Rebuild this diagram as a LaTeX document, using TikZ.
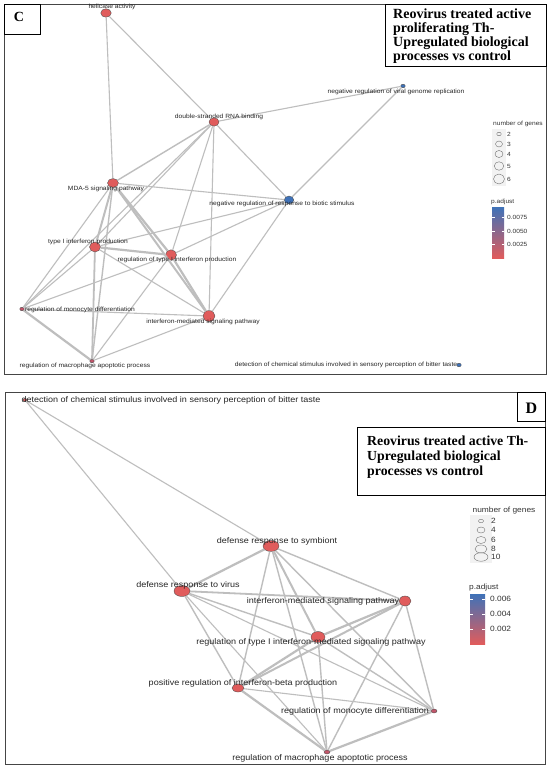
\documentclass[tikz,border=0pt]{standalone}
\usepackage{fontspec}
\setmainfont{Liberation Serif}
\setsansfont{Liberation Sans}
\newfontfamily\termfont[FakeStretch=1.1]{Liberation Sans}
\usetikzlibrary{shapes.geometric}

\definecolor{nodered}{HTML}{E05C5C}
\definecolor{nodeblue}{HTML}{3F72B8}
\definecolor{nodedark}{HTML}{C0566A}
\definecolor{edgegray}{HTML}{BEBEBE}
\definecolor{framegray}{HTML}{454545}

\begin{document}
\begin{tikzpicture}[x=1pt,y=-1pt]
\tikzset{term/.style = {shape=ellipse,draw=black!70,line width=0.35pt,inner sep=0pt}}
\tikzset{termlab/.style = {font=\termfont\fontsize{6.1}{7}\selectfont,inner sep=0pt,text=black!85}}
\tikzset{termlabD/.style = {font=\termfont\fontsize{8.2}{9}\selectfont,inner sep=0pt,text=black!85}}
\tikzset{link/.style = {draw=edgegray,line width=1.1pt}}
\tikzset{legtext/.style = {font=\termfont\fontsize{6}{7}\selectfont,inner sep=0pt,text=black!80}}
\tikzset{legtextD/.style = {font=\termfont\fontsize{7.6}{8}\selectfont,inner sep=0pt,text=black!80}}
\tikzset{titletext/.style = {font=\bfseries\fontsize{14}{14}\selectfont,inner sep=0pt}}
\tikzset{legdot/.style = {shape=ellipse,draw=black!60,line width=0.35pt,inner sep=0pt}}

\useasboundingbox (0,0) rectangle (550,768);
\fill[white] (0,0) rectangle (550,768);

% ---- panel C ----
\draw[framegray,line width=0.8pt] (4,4) rectangle (546,374);
\draw[black,line width=0.7pt] (4,4) rectangle (40,34);
\node[titletext,anchor=base] (tagC) at (19,22) {C};
\draw[black,line width=0.7pt] (385,4) rectangle (546,66);
\foreach \txt [count=\i] in {Reovirus treated active, proliferating Th-, Upregulated biological, processes vs control}
\node[titletext,anchor=base west] (ttlC-\i) at (393,5+14*\i) {\txt};

\foreach \pos/\name/\w/\h/\col in {{(106,13)/hel/10.5/8.5/nodered}, {(214,122)/dsr/10/8.5/nodered},
  {(113,183)/mda/11/9/nodered}, {(403,86)/nvr/4.5/3.5/nodeblue}, {(289,200)/nrb/9.5/8/nodeblue},
  {(95,247)/tip/11/10/nodered}, {(171,255)/rtip/11/10.5/nodered}, {(22,309)/mon/4.5/3.5/nodedark},
  {(209,316)/ims/12/11/nodered}, {(92,361)/mac/4.5/3.5/nodedark}, {(459,365)/bit/4.5/3.5/nodeblue}}
\node[term,fill=\col,minimum width=\w pt,minimum height=\h pt] (\name) at \pos {};

\foreach \from/\to/\lw in {hel/mda/1.1, hel/dsr/1.1, dsr/nvr/1.1, nvr/nrb/1.1, dsr/nrb/1.1,
  dsr/mda/1.4, dsr/tip/1.1, dsr/rtip/1.1, dsr/ims/1.1, dsr/mon/1.1, mda/nrb/1.1,
  mda/tip/2, mda/rtip/2.2, mda/ims/2, mda/mon/1.1, mda/mac/1.4, tip/rtip/2.2, tip/ims/1.1,
  tip/mac/1.8, tip/mon/1.1, tip/nrb/1.1, rtip/ims/2.2, rtip/mon/1.1, rtip/mac/1.1, rtip/nrb/1.1,
  ims/mon/1.1, ims/mac/1.1, ims/nrb/1.1, mon/mac/2.2}
\draw[link,line width=\lw pt] (\from) -- (\to);

\foreach \pos/\name/\txt in {{(112,7)/hel/helicase activity}, {(219,117)/dsr/double-stranded RNA binding},
  {(106,189)/mda/MDA-5 signaling pathway}, {(396,92)/nvr/negative regulation of viral genome replication},
  {(282,204)/nrb/negative regulation of response to biotic stimulus},
  {(88,242)/tip/type I interferon production}, {(177,260)/rtip/regulation of type I interferon production},
  {(80,310)/mon/regulation of monocyte differentiation}, {(203,322)/ims/interferon-mediated signaling pathway},
  {(85,366)/mac/regulation of macrophage apoptotic process},
  {(346,365)/bit/detection of chemical stimulus involved in sensory perception of bitter taste}}
\node[termlab] (\name-l) at \pos {\txt};

% legend C
\node[legtext] (genesC) at (518,124) {number of genes};
\fill[gray!10] (492,129) rectangle (506,186);
\foreach \y/\w/\h/\n in {134/4.5/3.5/2, 144/7/6/3, 154/8/7/4, 166/9.5/8.5/5, 179/11/10/6}{
\node[legdot,minimum width=\w pt,minimum height=\h pt] (dotC-\n) at (499,\y) {};
\node[legtext,anchor=west] (numC-\n) at (507,\y) {\n};
}
\node[legtext,anchor=west] (padjC) at (491,202) {p.adjust};
\shade[top color=nodeblue,bottom color=nodered] (492,207) rectangle (504,258);
\foreach \y/\v in {217/0.0075, 231/0.0050, 244/0.0025}{
\draw[white,line width=0.4pt] (492,\y) -- (494.5,\y) (501.5,\y) -- (504,\y);
\node[legtext,anchor=west] (tickC-\v) at (507,\y) {\v};
}

% ---- panel D ----
\draw[framegray,line width=0.8pt] (5,392) rectangle (545,764);
\draw[black,line width=0.7pt] (517,392) rectangle (545,421);
\node[titletext,font=\bfseries\fontsize{16}{16}\selectfont,anchor=base] (tagD) at (531.5,413) {D};
\draw[black,line width=0.7pt] (357,427) rectangle (545,495);
\foreach \txt [count=\i] in {Reovirus treated active Th-, Upregulated biological, processes vs control}
\node[titletext,font=\bfseries\fontsize{13.8}{14}\selectfont,anchor=base west] (ttlD-\i) at (367,430+15*\i) {\txt};

\foreach \pos/\name/\w/\h/\col in {{(25,400)/bitD/4/3/nodered}, {(271,546)/sym/16/11/nodered},
  {(182,591)/vir/16/11/nodered}, {(405,601)/imsD/12/10/nodered}, {(318,637)/rtipD/14/11/nodered},
  {(238,688)/pib/12/8/nodered}, {(434,711)/monD/6/4/nodedark}, {(327,752)/macD/6/4/nodedark}}
\node[term,fill=\col,minimum width=\w pt,minimum height=\h pt] (\name) at \pos {};

\foreach \from/\to/\lw in {bitD/sym/1.1, bitD/vir/1.1, sym/vir/2.2, sym/imsD/1.4, sym/rtipD/2,
  sym/pib/1.4, sym/monD/1.4, sym/macD/1.4, vir/imsD/1.8, vir/rtipD/1.4, vir/pib/1.4, vir/monD/1.1,
  vir/macD/1.1, imsD/rtipD/2.2, imsD/pib/2, imsD/monD/1.4, imsD/macD/1.4, rtipD/pib/2.2,
  rtipD/monD/1.4, rtipD/macD/1.4, pib/monD/1.1, pib/macD/2.2, monD/macD/2.2}
\draw[link,line width=\lw pt] (\from) -- (\to);

\foreach \pos/\name/\txt in {{(171,400)/bitD/detection of chemical stimulus involved in sensory perception of bitter taste},
  {(277,541)/sym/defense response to symbiont}, {(188,585)/vir/defense response to virus},
  {(323,601)/imsD/interferon-mediated signaling pathway},
  {(311,642)/rtipD/regulation of type I interferon-mediated signaling pathway},
  {(243,683)/pib/positive regulation of interferon-beta production},
  {(355,711)/monD/regulation of monocyte differentiation},
  {(320,758)/macD/regulation of macrophage apoptotic process}}
\node[termlabD] (\name-l) at \pos {\txt};

% legend D
\node[legtextD] (genesD) at (504,511) {number of genes};
\fill[gray!10] (470,515) rectangle (492,563);
\foreach \y/\w/\h/\n in {521/5/3.5/2, 530/8/6/4, 540/10/7/6, 549/12/8/8, 557/14/8.5/10}{
\node[legdot,minimum width=\w pt,minimum height=\h pt] (dotD-\n) at (481,\y) {};
\node[legtextD,anchor=west] (numD-\n) at (491,\y) {\n};
}
\node[legtextD,anchor=west] (padjD) at (469,588) {p.adjust};
\shade[top color=nodeblue,bottom color=nodered] (470,594) rectangle (485,644);
\foreach \y/\v in {599/0.006, 614/0.004, 629/0.002}{
\draw[white,line width=0.4pt] (470,\y) -- (473,\y) (482,\y) -- (485,\y);
\node[legtextD,anchor=west] (tickD-\v) at (490,\y) {\v};
}
\end{tikzpicture}
\end{document}
